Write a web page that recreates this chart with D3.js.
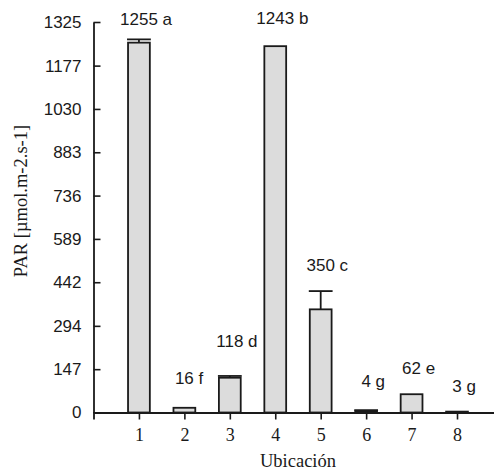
<!DOCTYPE html>
<html>
<head>
<meta charset="utf-8">
<script src="https://cdn.jsdelivr.net/npm/d3@7"></script>
<style>
  html, body { margin: 0; padding: 0; background: #fff; }
  svg { display: block; }
</style>
</head>
<body>
<svg id="chart" width="494" height="474"></svg>
<script>
// PAR by location: mean, error and significance letter
const ubicaciones = ["1", "2", "3", "4", "5", "6", "7", "8"];
const parMedia = [1255, 16, 118, 1243, 350, 4, 62, 3];
const parError = [11, 0, 6, 0, 62, 4, 0, 0];
const letras = ["a", "f", "d", "b", "c", "g", "e", "g"];
const yTickValues = [0, 147, 294, 442, 589, 736, 883, 1030, 1177, 1325];

const rows = ubicaciones.map((u, i) => ({
  u, pos: i + 1, v: parMedia[i], e: parError[i], l: letras[i]
}));

const svg = d3.select("#chart");
const sans = "'Liberation Sans', Arial, sans-serif";
const serif = "'Liberation Serif', 'Times New Roman', serif";
const ink = "#1a1a1a";

const x = d3.scaleLinear().domain([0, 8.88]).range([93.5, 497]);
const y = d3.scaleLinear().domain([0, 1325]).range([412.5, 22]);
const barW = x(1.24) - x(0.76);

// bars
svg.append("g").selectAll("rect").data(rows).join("rect")
  .attr("x", d => x(d.pos) - barW / 2)
  .attr("y", d => y(d.v))
  .attr("width", barW)
  .attr("height", d => y(0) - y(d.v))
  .attr("fill", "#dcdcdc")
  .attr("stroke", ink)
  .attr("stroke-width", 1.8);

// error bars (upper whisker with cap)
const eg = svg.append("g").attr("stroke", ink).attr("stroke-width", 1.8);
rows.filter(d => d.e > 0).forEach(d => {
  const cx = x(d.pos);
  eg.append("line").attr("x1", cx).attr("x2", cx)
    .attr("y1", y(d.v)).attr("y2", y(d.v + d.e));
  eg.append("line").attr("x1", cx - barW / 2 - 1).attr("x2", cx + barW / 2 + 1)
    .attr("y1", y(d.v + d.e)).attr("y2", y(d.v + d.e));
});

// x axis
const xAxis = svg.append("g")
  .attr("transform", `translate(0,${y(0)})`)
  .call(d3.axisBottom(x).tickValues(rows.map(d => d.pos))
    .tickFormat((d, i) => ubicaciones[i]).tickSize(7).tickSizeOuter(7).tickPadding(9));
xAxis.select(".domain").attr("stroke", ink).attr("stroke-width", 1.8);
xAxis.selectAll(".tick line").attr("stroke", ink).attr("stroke-width", 1.6);
xAxis.selectAll("text").attr("font-family", serif).attr("font-size", 18).attr("fill", ink);

// y axis (ticks pointing inward)
const yAxis = svg.append("g")
  .attr("transform", `translate(${x(0)},0)`)
  .call(d3.axisLeft(y).tickValues(yTickValues).tickFormat(d3.format("d"))
    .tickSize(-7).tickSizeOuter(0).tickPadding(12));
yAxis.select(".domain").attr("stroke", ink).attr("stroke-width", 1.8);
yAxis.selectAll(".tick line").attr("stroke", ink).attr("stroke-width", 1.6);
yAxis.selectAll("text").attr("font-family", sans).attr("font-size", 17).attr("fill", ink);

// value labels: the number is centred over the bar, the letter follows it
const labelGap = [14, 24, 29, 22, 20, 23, 20, 20];
const lg = svg.append("g").attr("font-family", sans).attr("font-size", 17).attr("fill", ink);
rows.forEach((d, i) => {
  const t = lg.append("text").attr("y", y(d.v + d.e) - labelGap[i]);
  const num = t.append("tspan").text(d.v);
  t.append("tspan").text(" " + d.l);
  const w = num.node().getComputedTextLength();
  t.attr("x", x(d.pos) - w / 2);
});

// axis titles
svg.append("text")
  .attr("x", 298).attr("y", 467)
  .attr("text-anchor", "middle")
  .attr("font-family", serif).attr("font-size", 18.5).attr("fill", ink)
  .text("Ubicación");

svg.append("text")
  .attr("transform", "translate(27,201) rotate(-90)")
  .attr("text-anchor", "middle")
  .attr("font-family", serif).attr("font-size", 18.5).attr("fill", ink)
  .text("PAR [µmol.m-2.s-1]");
</script>
</body>
</html>
